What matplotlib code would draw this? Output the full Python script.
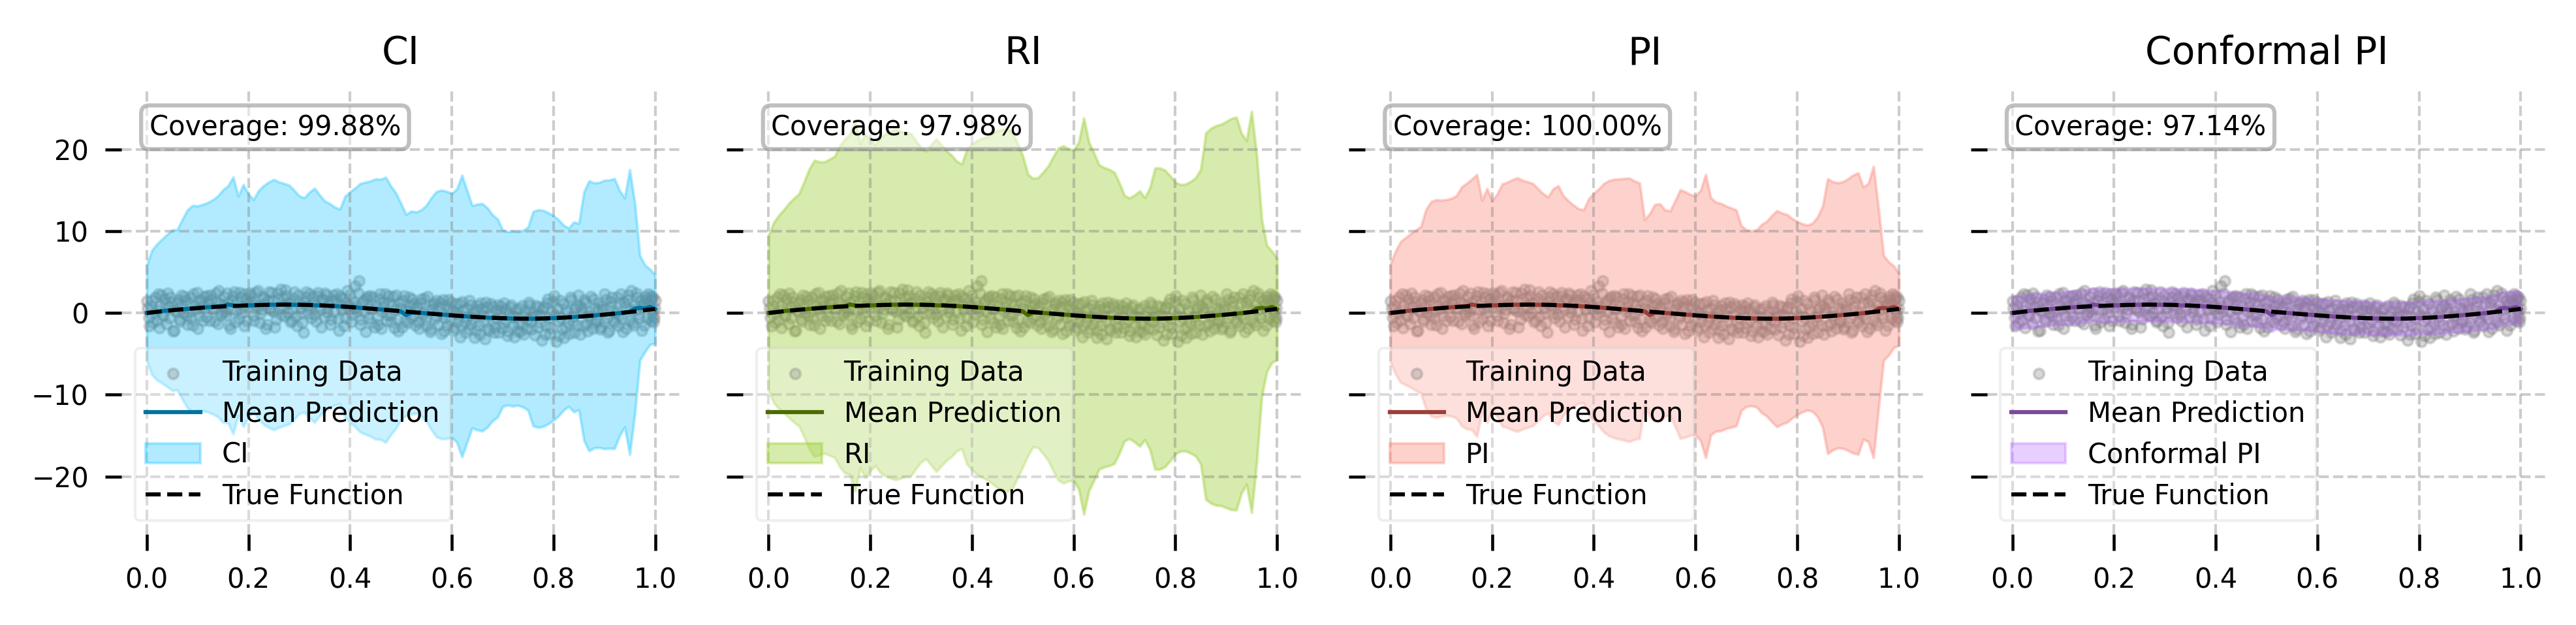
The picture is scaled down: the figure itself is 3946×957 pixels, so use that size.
import numpy as np
import matplotlib
matplotlib.use('Agg')
import matplotlib.pyplot as plt

# true function
x_true = [0.000, 0.025, 0.050, 0.075, 0.100, 0.125, 0.150, 0.175, 0.200, 0.225,
          0.250, 0.275, 0.300, 0.325, 0.350, 0.375, 0.400, 0.425, 0.450, 0.475,
          0.500, 0.525, 0.550, 0.575, 0.600, 0.625, 0.650, 0.675, 0.700, 0.725,
          0.750, 0.775, 0.800, 0.825, 0.850, 0.875, 0.900, 0.925, 0.950, 0.975, 1.000]
y_true = [0.00, 0.18, 0.34, 0.48, 0.60, 0.71, 0.80, 0.87, 0.93, 0.98,
          1.01, 1.02, 1.01, 0.97, 0.91, 0.83, 0.73, 0.61, 0.48, 0.35,
          0.22, 0.09, -0.04, -0.17, -0.29, -0.40, -0.50, -0.58, -0.64, -0.68,
          -0.70, -0.68, -0.63, -0.55, -0.45, -0.33, -0.20, -0.05, 0.12, 0.30, 0.50]

# prediction grid
x_grid = np.linspace(0, 1, 101)
mean_pred = [0.00, 0.05, 0.12, 0.22, 0.30, 0.33, 0.38, 0.45, 0.50, 0.54,
             0.58, 0.66, 0.70, 0.74, 0.80, 0.85, 1.05, 0.92, 0.88, 0.90,
             0.93, 0.95, 0.97, 0.98, 1.00, 1.02, 1.01, 1.03, 1.02, 1.00,
             1.00, 0.98, 0.97, 0.94, 0.92, 0.90, 0.87, 0.84, 0.80, 0.76,
             0.72, 0.68, 0.63, 0.58, 0.53, 0.48, 0.43, 0.38, 0.33, 0.28,
             0.20, -0.25, 0.05, 0.04, 0.00, -0.04, -0.09, -0.14, -0.19, -0.24,
             -0.29, -0.33, -0.38, -0.42, -0.46, -0.50, -0.53, -0.56, -0.60, -0.62,
             -0.64, -0.66, -0.68, -0.69, -0.70, -0.70, -0.70, -0.69, -0.67, -0.65,
             -0.63, -0.60, -0.57, -0.53, -0.49, -0.45, -0.40, -0.35, -0.30, -0.25,
             -0.20, -0.14, -0.08, -0.02, 0.05, 0.12, 0.55, 0.62, 0.55, 0.75, 0.45]

# half widths of the intervals
ci_hw = [5.8, 7.6, 8.3, 8.8, 9.3, 9.8, 9.8, 11.0, 12.1, 12.6,
         12.5, 12.6, 12.8, 13.1, 13.5, 14.2, 14.5, 15.7, 13.4, 14.8,
         13.6, 12.9, 14.0, 14.6, 15.0, 15.3, 15.0, 14.8, 14.6, 14.0,
         13.3, 13.1, 13.8, 14.3, 13.5, 12.8, 12.5, 12.1, 11.9, 13.5,
         14.1, 14.6, 15.2, 15.4, 15.6, 15.9, 15.9, 16.2, 15.2, 14.4,
         13.2, 12.3, 12.4, 12.3, 12.6, 13.2, 14.2, 15.0, 15.2, 15.1,
         14.9, 15.5, 17.2, 15.4, 13.6, 13.8, 13.9, 13.4, 12.6, 12.1,
         10.8, 10.6, 10.7, 10.6, 10.8, 11.2, 13.1, 13.3, 13.2, 12.9,
         12.5, 12.0, 11.3, 10.9, 11.6, 11.4, 15.2, 16.5, 16.2, 16.2,
         16.4, 16.4, 16.5, 15.0, 14.0, 17.4, 12.9, 6.4, 5.3, 4.6, 4.2]
ri_hw = [9.5, 11.0, 11.8, 12.4, 13.1, 13.7, 14.2, 15.6, 17.1, 18.1,
         17.9, 17.8, 18.1, 18.4, 19.6, 20.4, 20.8, 22.7, 19.8, 21.0,
         20.2, 19.6, 20.5, 20.9, 21.2, 21.4, 21.2, 21.0, 20.9, 20.0,
         19.2, 18.8, 19.6, 20.3, 19.6, 18.9, 18.4, 17.7, 17.4, 19.2,
         19.9, 20.4, 20.7, 21.0, 21.4, 21.8, 22.0, 22.2, 21.7, 20.4,
         19.0, 17.2, 16.4, 16.5, 17.2, 18.0, 19.2, 20.3, 20.6, 20.3,
         20.2, 21.2, 24.2, 21.3, 20.0, 18.6, 18.3, 18.1, 17.8, 16.5,
         15.0, 14.7, 15.1, 15.6, 14.8, 16.0, 18.4, 18.4, 18.1, 17.4,
         16.6, 16.3, 16.3, 16.6, 17.0, 18.0, 22.4, 22.9, 23.2, 23.3,
         23.6, 23.9, 24.0, 22.0, 21.0, 24.5, 18.8, 10.8, 7.7, 6.8, 6.2]
pi_hw = [6.0, 7.5, 8.6, 9.0, 9.4, 9.8, 10.2, 12.2, 13.1, 13.3,
         13.2, 13.2, 13.3, 13.6, 14.6, 15.0, 15.3, 16.0, 12.9, 14.3,
         12.8, 13.6, 14.8, 15.0, 15.3, 15.5, 15.2, 15.0, 14.8, 14.2,
         13.6, 13.2, 14.2, 14.6, 13.4, 12.8, 12.3, 11.9, 11.8, 13.2,
         13.9, 14.5, 15.2, 15.6, 15.8, 15.9, 16.0, 16.1, 15.8, 15.6,
         11.2, 12.4, 13.2, 13.3, 12.6, 12.5, 13.8, 15.2, 15.0, 14.7,
         14.6, 15.3, 17.3, 14.5, 14.0, 13.9, 13.6, 13.4, 13.2, 11.3,
         10.8, 10.7, 10.8, 11.5, 11.9, 12.6, 13.2, 12.9, 12.7, 12.2,
         11.8, 11.5, 11.3, 11.5, 12.2, 13.5, 16.8, 16.4, 16.2, 16.3,
         16.6, 17.0, 17.2, 15.4, 15.8, 17.8, 12.2, 6.4, 5.7, 5.0, 4.4]
conf_q = 2.0

# training data
x_train = [0.000, 0.004, 0.008, 0.012, 0.017, 0.021, 0.025, 0.029, 0.033, 0.037,
           0.041, 0.045, 0.049, 0.054, 0.058, 0.062, 0.066, 0.070, 0.074, 0.078,
           0.082, 0.086, 0.090, 0.095, 0.099, 0.103, 0.107, 0.111, 0.115, 0.119,
           0.123, 0.127, 0.132, 0.136, 0.140, 0.144, 0.148, 0.152, 0.156, 0.160,
           0.164, 0.168, 0.172, 0.176, 0.181, 0.185, 0.189, 0.193, 0.197, 0.201,
           0.205, 0.209, 0.213, 0.218, 0.222, 0.226, 0.230, 0.234, 0.238, 0.242,
           0.246, 0.250, 0.255, 0.259, 0.263, 0.267, 0.271, 0.275, 0.279, 0.283,
           0.287, 0.291, 0.296, 0.300, 0.304, 0.308, 0.312, 0.316, 0.320, 0.324,
           0.328, 0.333, 0.337, 0.341, 0.345, 0.349, 0.353, 0.357, 0.361, 0.365,
           0.369, 0.374, 0.378, 0.382, 0.386, 0.390, 0.394, 0.398, 0.402, 0.406,
           0.410, 0.414, 0.418, 0.422, 0.426, 0.430, 0.434, 0.438, 0.442, 0.446,
           0.451, 0.455, 0.459, 0.463, 0.467, 0.471, 0.475, 0.479, 0.483, 0.487,
           0.491, 0.495, 0.500, 0.504, 0.508, 0.512, 0.516, 0.520, 0.524, 0.528,
           0.532, 0.536, 0.540, 0.544, 0.548, 0.552, 0.557, 0.561, 0.565, 0.569,
           0.573, 0.577, 0.581, 0.585, 0.589, 0.593, 0.597, 0.601, 0.605, 0.609,
           0.613, 0.617, 0.621, 0.625, 0.629, 0.633, 0.637, 0.641, 0.645, 0.649,
           0.653, 0.657, 0.661, 0.665, 0.669, 0.673, 0.677, 0.681, 0.685, 0.689,
           0.693, 0.697, 0.701, 0.705, 0.709, 0.713, 0.717, 0.721, 0.725, 0.729,
           0.733, 0.737, 0.741, 0.745, 0.749, 0.753, 0.757, 0.761, 0.765, 0.769,
           0.773, 0.777, 0.781, 0.785, 0.789, 0.793, 0.797, 0.801, 0.805, 0.809,
           0.813, 0.817, 0.821, 0.825, 0.829, 0.833, 0.837, 0.841, 0.845, 0.849,
           0.853, 0.857, 0.861, 0.865, 0.869, 0.873, 0.877, 0.881, 0.885, 0.889,
           0.893, 0.897, 0.901, 0.905, 0.909, 0.913, 0.917, 0.921, 0.925, 0.929,
           0.933, 0.937, 0.941, 0.945, 0.949, 0.953, 0.957, 0.961, 0.965, 0.969,
           0.973, 0.977, 0.981, 0.985, 0.989, 0.993, 0.997, 1.000, 0.995, 0.999,
           0.002, 0.006, 0.010, 0.014, 0.019, 0.023, 0.027, 0.031, 0.035, 0.039,
           0.043, 0.047, 0.051, 0.056, 0.060, 0.064, 0.068, 0.072, 0.076, 0.080,
           0.084, 0.088, 0.092, 0.097, 0.101, 0.105, 0.109, 0.113, 0.117, 0.121,
           0.125, 0.129, 0.134, 0.138, 0.142, 0.146, 0.150, 0.154, 0.158, 0.162,
           0.166, 0.170, 0.174, 0.178, 0.183, 0.187, 0.191, 0.195, 0.199, 0.203,
           0.207, 0.211, 0.215, 0.220, 0.224, 0.228, 0.232, 0.236, 0.240, 0.244,
           0.248, 0.252, 0.257, 0.261, 0.265, 0.269, 0.273, 0.277, 0.281, 0.285,
           0.289, 0.293, 0.298, 0.302, 0.306, 0.310, 0.314, 0.318, 0.322, 0.326,
           0.330, 0.335, 0.339, 0.343, 0.347, 0.351, 0.355, 0.359, 0.363, 0.367,
           0.371, 0.376, 0.380, 0.384, 0.388, 0.392, 0.396, 0.400, 0.404, 0.408,
           0.412, 0.416, 0.420, 0.424, 0.428, 0.432, 0.436, 0.440, 0.444, 0.448,
           0.453, 0.457, 0.461, 0.465, 0.469, 0.473, 0.477, 0.481, 0.485, 0.489,
           0.493, 0.497, 0.502, 0.506, 0.510, 0.514, 0.518, 0.522, 0.526, 0.530,
           0.534, 0.538, 0.542, 0.546, 0.550, 0.555, 0.559, 0.563, 0.567, 0.571,
           0.575, 0.579, 0.583, 0.587, 0.591, 0.595, 0.599, 0.603, 0.607, 0.611,
           0.615, 0.619, 0.623, 0.627, 0.631, 0.635, 0.639, 0.643, 0.647, 0.651,
           0.655, 0.659, 0.663, 0.667, 0.671, 0.675, 0.679, 0.683, 0.687, 0.691,
           0.695, 0.699, 0.703, 0.707, 0.711, 0.715, 0.719, 0.723, 0.727, 0.731,
           0.735, 0.739, 0.743, 0.747, 0.751, 0.755, 0.759, 0.763, 0.767, 0.771,
           0.775, 0.779, 0.783, 0.787, 0.791, 0.795, 0.799, 0.803, 0.807, 0.811,
           0.815, 0.819, 0.823, 0.827, 0.831, 0.835, 0.839, 0.843, 0.847, 0.851,
           0.855, 0.859, 0.863, 0.867, 0.871, 0.875, 0.879, 0.883, 0.887, 0.891,
           0.895, 0.899, 0.903, 0.907, 0.911, 0.915, 0.919, 0.923, 0.927, 0.931,
           0.935, 0.939, 0.943, 0.947, 0.951, 0.955, 0.959, 0.963, 0.967, 0.971,
           0.975, 0.979, 0.983, 0.987, 0.991, 0.994, 0.996, 0.998, 0.984, 0.992]
y_train = [1.45, -0.55, 0.8, -1.2, 1.9, 0.3, -1.8, 2.2, -0.4, 1.1,
           2.4, -0.6, 1.3, -2.1, 0.2, 1.6, -1.0, 0.9, 2.0, -0.3,
           0.1, 1.9, -1.5, 0.9, 2.5, -0.4, 1.4, -0.9, 0.6, 2.1,
           -0.9, 1.7, 0.4, 2.4, -1.3, 1.1, 0.0, 2.0, -0.2, 1.3,
           -1.9, 1.5, 2.6, 0.3, -0.7, 1.9, 0.8, 2.3, -0.9, 1.2,
           2.2, -0.3, 1.0, 2.7, -1.2, 0.4, 1.8, -1.9, 1.5, 0.6,
           2.5, 0.2, -0.8, 1.7, 2.9, 0.9, -0.4, 2.1, 1.3, -1.1,
           0.5, 2.6, -1.6, 1.4, 0.0, -2.4, 1.9, 0.8, 2.3, -0.6,
           1.2, -1.0, 2.5, 0.3, 1.7, -0.5, 2.2, 0.9, -1.4, 1.5,
           0.1, 2.3, -2.1, 1.0, 1.8, -0.6, 2.7, 0.5, -1.1, 1.4,
           3.3, 0.2, 3.9, -0.8, 1.5, -2.3, 2.0, 0.6, -1.2, 1.9,
           0.9, -1.4, 2.3, 0.2, 1.4, -0.9, 2.1, -0.3, 1.0, -1.8,
           2.2, -2.2, 0.6, 1.5, -1.0, 0.2, 1.9, -0.6, 1.1, -1.5,
           0.8, -1.9, 1.7, 0.0, -0.8, 2.0, -2.3, 0.5, 1.2, -0.4,
           -1.4, 1.3, -0.1, -2.2, 0.9, 1.6, -0.9, 0.3, -1.8, 1.1,
           -0.2, -2.9, 1.4, -1.1, 0.6, -2.0, 1.0, -0.7, -3.0, 0.4,
           -1.5, 1.2, -0.3, -3.2, 0.7, -2.1, 1.1, -0.9, -1.7, 0.3,
           -2.4, 0.8, -1.2, 0.4, -2.8, -0.1, 1.0, -1.6, -0.5, -2.2,
           0.6, -1.3, -2.6, 0.2, -0.8, 1.0, -2.0, -0.4, 0.9, -1.7,
           -0.2, -3.3, 0.7, -1.5, 1.7, -2.5, 0.2, 2.1, -3.5, -0.9,
           1.5, -2.0, -3.0, 0.4, -1.2, 1.9, -0.5, -2.4, 0.8, 2.2,
           -2.6, 0.1, 1.6, -1.3, -0.4, 2.0, -1.9, 0.6, -0.9, 1.2,
           -1.7, 0.9, 2.3, -0.6, -2.1, 1.4, 0.2, -1.2, 1.9, -0.3,
           2.3, -2.3, 0.8, 1.6, -0.9, 2.7, -1.5, 0.4, 1.9, -0.6,
           -2.1, 1.2, 2.0, -0.7, 0.9, 1.7, -1.1, 1.5, -0.4, 0.6,
           0.6, -1.6, 1.5, 0.0, -0.9, 2.3, 0.9, -0.2, 1.7, -1.3,
           0.7, 1.9, -2.2, 0.3, 1.2, -0.8, 2.2, 0.0, 1.5, -1.4,
           1.1, -0.7, 2.3, 0.4, -1.9, 1.6, 0.8, 2.0, -0.5, 1.3,
           2.2, 0.6, -1.0, 1.4, 2.7, -0.3, 1.0, 0.2, 2.4, -1.5,
           0.4, 2.1, -1.1, 1.3, 2.5, 0.0, -1.6, 1.7, 0.7, 2.4,
           1.4, -0.9, 2.5, 0.8, -0.1, 2.0, 1.1, -1.4, 2.6, 0.3,
           1.5, -1.7, 2.4, 0.6, -0.2, 1.9, 2.8, 0.0, 1.2, -0.9,
           1.8, -0.4, 2.2, 0.7, -1.2, 1.3, 2.6, -0.1, 0.9, 2.0,
           -0.2, 2.1, 0.8, -1.7, 1.6, 2.4, 0.1, 1.2, -0.8, 2.2,
           1.6, -0.7, 2.0, 0.4, -1.6, 1.3, 0.9, 2.2, -0.2, 0.6,
           0.9, 2.4, -1.4, 1.2, 0.1, 1.8, -0.6, 2.1, 0.5, -1.7,
           -0.5, 1.7, -1.9, 0.8, 2.3, -0.2, 1.2, -1.1, 2.0, 0.4,
           -0.8, 1.3, -1.7, 2.1, 0.3, -1.2, 0.9, 1.7, -0.3, 0.6,
           -1.1, 1.2, -0.3, 1.8, -1.6, 0.4, -2.0, 1.0, -0.7, 1.5,
           0.7, -2.5, 1.6, -0.6, -1.5, 0.5, 1.3, -2.1, 0.0, -1.0,
           1.1, -1.6, 0.3, -2.4, -0.5, 1.5, -1.3, 0.2, -2.1, 0.9,
           -2.6, 0.5, -1.0, 1.3, -1.9, -0.2, 0.8, -2.4, -0.6, 1.0,
           0.2, -1.8, 1.2, -0.9, -2.2, 0.7, -0.4, -2.9, 0.4, -1.3,
           -2.3, 0.9, -0.5, -1.9, 1.3, -1.1, 0.1, -2.7, -0.3, 0.7,
           -1.2, 0.5, -2.6, 1.2, -0.6, -1.8, 1.4, -0.2, 0.6, -2.8,
           -0.6, 1.1, -1.7, 0.2, -2.5, 1.6, -1.0, 0.5, -1.5, 0.9,
           0.6, -1.6, 1.3, -2.2, 0.2, -0.8, 1.7, -1.2, 0.4, -2.0,
           0.4, -1.1, 1.6, -2.4, 0.7, 1.9, -0.9, 0.0, -1.6, 1.2,
           -0.7, 1.3, -1.9, 2.2, 0.3, -1.2, 1.0, 2.4, -0.2, 1.5,
           0.8, -1.5, 1.6, 2.3, -0.9, 0.4, 1.9, -0.6, 1.1, 2.1]

methods = ['CI', 'RI', 'PI', 'Conformal PI']
coverage = [99.88, 97.98, 100.00, 97.14]
half_widths = [ci_hw, ri_hw, pi_hw, None]
line_colors = ['#00739e', '#4b6b00', '#9a403a', '#7a4a9a']
fill_colors = ['#00bfff', '#9acd32', '#fa8072', '#b266ff']
fill_alpha = [0.3, 0.4, 0.35, 0.3]

fig, axes = plt.subplots(1, 4, figsize=(3946 / 300, 957 / 300), dpi=300, sharey=True)
plt.subplots_adjust(left=0.0471, right=0.9884, bottom=0.1453, top=0.8537, wspace=0.112)

mean = np.array(mean_pred)
for i, ax in enumerate(axes):
    hw = conf_q if half_widths[i] is None else np.array(half_widths[i])
    ax.scatter(x_train, y_train, c='gray', alpha=0.3, s=14, label='Training Data')
    ax.plot(x_grid, mean, color=line_colors[i], lw=1.5, label='Mean Prediction')
    ax.fill_between(x_grid, mean - hw, mean + hw, color=fill_colors[i],
                    alpha=fill_alpha[i], label=methods[i])
    ax.plot(x_true, y_true, 'k--', lw=1.5, label='True Function')
    ax.set_title(methods[i], fontsize=14, pad=10)
    ax.text(0.05, 0.95, f'Coverage: {coverage[i]:.2f}%', transform=ax.transAxes,
            ha='left', va='top', fontsize=10,
            bbox=dict(boxstyle='round', facecolor='white', edgecolor='gray',
                      alpha=0.5, linewidth=1.5))
    ax.legend(loc='lower left', fontsize=10, framealpha=0.3)
    ax.grid(True, linestyle='--', color='gray', alpha=0.4, linewidth=1.0)
    for s in ax.spines.values():
        s.set_visible(False)
    ax.tick_params(length=6, width=1.1, pad=6, labelsize=10)

plt.savefig('out.png', dpi=300)
